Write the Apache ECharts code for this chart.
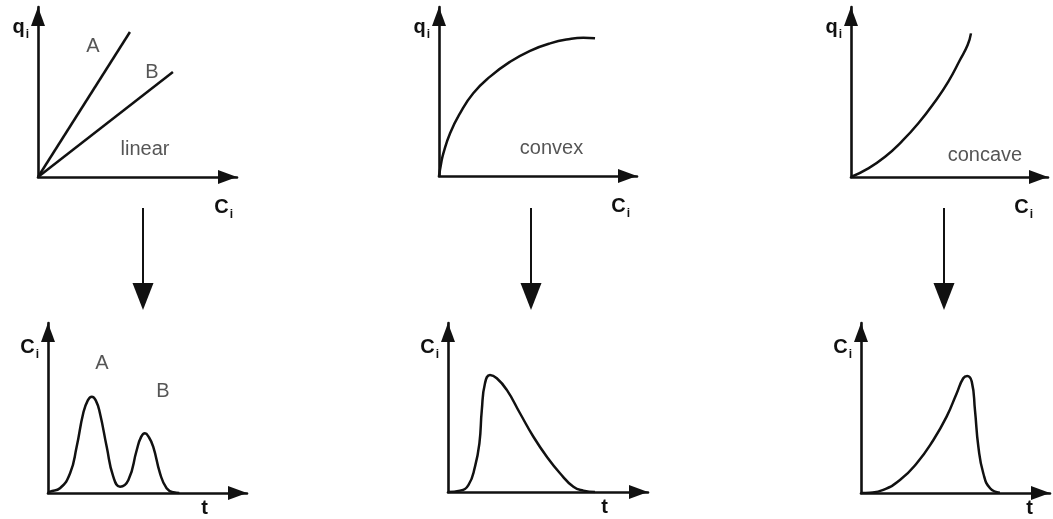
<!DOCTYPE html>
<html>
<head>
<meta charset="utf-8">
<script src="https://cdn.jsdelivr.net/npm/echarts@6/dist/echarts.min.js"></script>
<style>
  html, body { margin: 0; padding: 0; background: #fff; }
  #chart { width: 1053px; height: 519px; }
</style>
</head>
<body>
<div id="chart"></div>
<script>
// Isotherm shapes (q_i vs C_i), each axis runs 0..100
const linearA = [[0, 0], [46.2, 85.3]];
const linearB = [[0, 0], [67.8, 61.8]];
const convexCurve = [[0, 0], [1, 7], [2.2, 13.4], [5.6, 25.3], [10.6, 37.1], [17.3, 49], [25.8, 58.8],
  [35.9, 67.6], [46, 74.1], [56.1, 78.5], [66.2, 81.1], [72.9, 81.8], [78.8, 81.5]];
const concaveCurve = [[0, 0], [8.8, 5.1], [17.3, 11.9], [25.7, 20.8], [34.2, 31.6], [42.6, 44.3],
  [49.4, 56.1], [55.3, 68.8], [59.2, 77.6], [60.9, 84.5]];

// Resulting elution profiles (C_i vs t)
const peaksAB = [[0, 0], [1, 0.8], [6, 2.8], [11.1, 11.6], [14.4, 27.2], [17.7, 46.9], [20, 54.5], [22, 56.6],
  [24, 54.5], [26.1, 46.9], [29.5, 27.2], [32.8, 9.6], [36.2, 3.7], [40.4, 7.6], [44.6, 25.3], [46.8, 33],
  [48.7, 35.1], [50.6, 33], [52.9, 27.2], [56.3, 11.6], [59.6, 2.8], [63, 0.4], [66, 0]];
const tailingPeak = [[0, 0], [6, 0.8], [10.2, 4.1], [13.5, 15], [15.7, 28.8], [16.9, 48.5], [18.5, 64.3],
  [21, 69.2], [24.4, 67.3], [29.4, 60.4], [36, 46.6], [42.7, 32.7], [49.4, 20.9], [56, 11.1],
  [62.7, 3.1], [67.7, 0.8], [73.5, 0]];
const frontingPeak = [[0, 0], [4.8, 0.2], [11.8, 1.8], [20.6, 7.6], [29.5, 17.5], [38.3, 31.2],
  [45.3, 44.9], [50.6, 58.6], [54.1, 67.5], [56.2, 68.8], [58.6, 65.5], [60.3, 48.8], [62.1, 27.2],
  [64.7, 11.6], [68.3, 2.8], [73.5, 0.2]];

// Text annotations: [text, x, y]
const linearNotes = [['A', 27.6, 76.5], ['B', 57.3, 61.2], ['linear', 53.8, 15.9]];
const convexNotes = [['convex', 56.8, 16]];
const concaveNotes = [['concave', 68, 12.9]];
const peakNotes = [['A', 27.1, 75.9], ['B', 57.8, 60]];

// Axis titles
const isothermX = '{b|C}{s|i}';
const isothermY = '{b|q}{s|i}';
const profileX = '{b|t}';
const profileY = '{b|C}{s|i}';

const INK = '#111';
const FONT = '"Liberation Sans", Arial, Helvetica, sans-serif';

const grids = [
  { left: 38, top: 7, width: 199, height: 170 },
  { left: 439, top: 7, width: 198, height: 169 },
  { left: 851, top: 7, width: 197, height: 170 },
  { left: 48, top: 323, width: 199, height: 170 },
  { left: 448, top: 323, width: 200, height: 169 },
  { left: 861, top: 323, width: 189, height: 170 }
];

const richName = {
  b: { fontSize: 20, fontWeight: 'bold', color: INK, fontFamily: FONT },
  s: { fontSize: 12, fontWeight: 'bold', color: INK, fontFamily: FONT, padding: [15, 0, 0, 1] }
};

function axisLine() {
  return {
    show: true,
    onZero: false,
    symbol: ['none', 'triangle'],
    symbolSize: [14, 19],
    symbolOffset: [0, -9.5],
    lineStyle: { color: INK, width: 2.6 }
  };
}

function xAxis(i, name, gap, padTop) {
  return {
    type: 'value', gridIndex: i, min: 0, max: 100,
    axisLine: axisLine(), axisTick: { show: false }, axisLabel: { show: false },
    splitLine: { show: false },
    name: name, nameLocation: 'end', nameGap: gap,
    nameTextStyle: { align: 'right', verticalAlign: 'top', padding: [padTop, 0, 0, 0], rich: richName }
  };
}

function yAxis(i, name, gap) {
  return {
    type: 'value', gridIndex: i, min: 0, max: 100,
    axisLine: axisLine(), axisTick: { show: false }, axisLabel: { show: false },
    splitLine: { show: false },
    name: name, nameLocation: 'end', nameGap: gap,
    nameTextStyle: { align: 'right', verticalAlign: 'middle', padding: [0, 9, 0, 0], rich: richName }
  };
}

function curve(i, data, smooth) {
  return {
    type: 'line', xAxisIndex: i, yAxisIndex: i, data: data,
    smooth: smooth, showSymbol: false, symbol: 'none', silent: true,
    lineStyle: { color: INK, width: 2.5 }
  };
}

function notes(i, list) {
  return {
    type: 'scatter', xAxisIndex: i, yAxisIndex: i, symbolSize: 0, silent: true,
    data: list.map(n => ({ name: n[0], value: [n[1], n[2]] })),
    label: {
      show: true, position: 'inside', formatter: p => p.name,
      color: '#2b2b2b', fontSize: 20, fontFamily: FONT
    }
  };
}

// Downward arrows linking each isotherm to its peak shape
const arrowXs = [143, 531, 944];
const graphics = [];
arrowXs.forEach(x => {
  graphics.push({
    type: 'line', shape: { x1: x, y1: 208, x2: x, y2: 290 },
    style: { stroke: INK, lineWidth: 2 }, silent: true
  });
  graphics.push({
    type: 'polygon', shape: { points: [[x - 10.5, 283], [x + 10.5, 283], [x, 310]] },
    style: { fill: INK }, silent: true
  });
});

const chart = echarts.init(document.getElementById('chart'), null, { renderer: 'canvas' });
chart.setOption({
  animation: false,
  backgroundColor: '#fff',
  grid: grids,
  xAxis: [
    xAxis(0, isothermX, -4, 17),
    xAxis(1, isothermX, -7, 17),
    xAxis(2, isothermX, -15, 17),
    xAxis(3, profileX, -39, 5),
    xAxis(4, profileX, -40, 5),
    xAxis(5, profileX, -17, 5)
  ],
  yAxis: [
    yAxis(0, isothermY, -20),
    yAxis(1, isothermY, -20),
    yAxis(2, isothermY, -20),
    yAxis(3, profileY, -24),
    yAxis(4, profileY, -24),
    yAxis(5, profileY, -24)
  ],
  series: [
    curve(0, linearA, false),
    curve(0, linearB, false),
    notes(0, linearNotes),
    curve(1, convexCurve, true),
    notes(1, convexNotes),
    curve(2, concaveCurve, true),
    notes(2, concaveNotes),
    curve(3, peaksAB, true),
    notes(3, peakNotes),
    curve(4, tailingPeak, true),
    curve(5, frontingPeak, true)
  ],
  graphic: graphics
});
</script>
</body>
</html>
